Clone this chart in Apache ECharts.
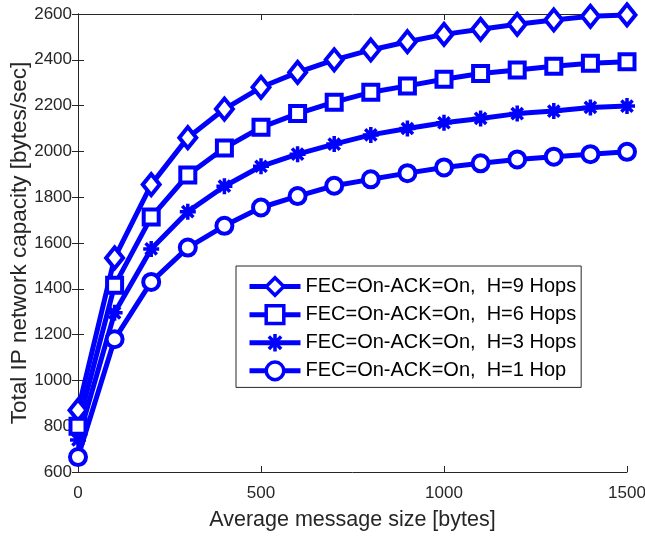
<!DOCTYPE html>
<html>
<head>
<meta charset="utf-8">
<script src="https://cdn.jsdelivr.net/npm/echarts@6/dist/echarts.min.js"></script>
<style>
  html, body { margin: 0; padding: 0; background: #fff; }
  #chart { width: 645px; height: 538px; }
</style>
</head>
<body>
<div id="chart"></div>
<script>
// message size [bytes]
const msgSize = [0, 100, 200, 300, 400, 500, 600, 700, 800, 900, 1000, 1100, 1200, 1300, 1400, 1500]
// capacity [bytes/sec]
const hops9 = [870, 1535, 1855, 2060, 2185, 2280, 2345, 2400, 2443, 2479, 2511, 2533, 2555, 2574, 2590, 2596]
const hops6 = [800, 1415, 1713, 1897, 2015, 2105, 2165, 2215, 2258, 2286, 2315, 2340, 2355, 2372, 2385, 2392]
const hops3 = [740, 1295, 1574, 1737, 1848, 1935, 1988, 2032, 2072, 2100, 2125, 2144, 2165, 2176, 2192, 2198]
const hops1 = [665, 1180, 1430, 1580, 1675, 1755, 1805, 1850, 1878, 1905, 1930, 1948, 1965, 1977, 1988, 1998]
const names = [
  'FEC=On-ACK=On,  H=9 Hops',
  'FEC=On-ACK=On,  H=6 Hops',
  'FEC=On-ACK=On,  H=3 Hops',
  'FEC=On-ACK=On,  H=1 Hop'
]

const BLUE = '#0000ff'
const AXIS = '#262626'
const FONT = 'Liberation Sans, Arial, sans-serif'
const asterisk = 'path://M0,-10L0,10M-10,0L10,0M-7,-7L7,7M-7,7L7,-7'

const zip = ys => msgSize.map((x, i) => [x, ys[i]])
const plain = v => String(v)

function mkSeries(name, ys, symbol, size, hollow) {
  return {
    name,
    type: 'line',
    data: zip(ys),
    symbol,
    symbolSize: size,
    showAllSymbol: true,
    clip: false,
    lineStyle: { color: BLUE, width: 5 },
    itemStyle: {
      color: hollow ? '#fff' : BLUE,
      borderColor: BLUE,
      borderWidth: hollow ? 4 : 3.5
    },
    emphasis: { disabled: true }
  }
}

const chart = echarts.init(document.getElementById('chart'))
chart.setOption({
  animation: false,
  backgroundColor: '#fff',
  grid: { left: 78, right: 18, top: 14, bottom: 66, outerBoundsMode: 'none' },
  xAxis: [
    {
      type: 'value', min: 0, max: 1500, interval: 500,
      name: 'Average message size [bytes]', nameLocation: 'middle', nameGap: 37,
      nameMoveOverlap: false,
      nameTextStyle: { fontFamily: FONT, fontSize: 21.5, color: AXIS },
      axisLine: { lineStyle: { color: AXIS, width: 1 } },
      axisTick: { inside: true, length: 6, lineStyle: { color: AXIS } },
      axisLabel: { fontFamily: FONT, fontSize: 17, color: AXIS, margin: 13, formatter: plain },
      splitLine: { show: false }
    },
    {
      type: 'value', position: 'top', min: 0, max: 1500, interval: 500,
      axisLine: { lineStyle: { color: AXIS, width: 1 } },
      axisTick: { inside: true, length: 6, lineStyle: { color: AXIS } },
      axisLabel: { show: false },
      splitLine: { show: false }
    }
  ],
  yAxis: [
    {
      type: 'value', min: 600, max: 2600, interval: 200,
      name: 'Total IP network capacity [bytes/sec]', nameLocation: 'middle', nameGap: 47,
      nameMoveOverlap: false,
      nameTextStyle: { fontFamily: FONT, fontSize: 22.5, color: AXIS },
      axisLine: { show: true, lineStyle: { color: AXIS, width: 1 } },
      axisTick: { show: true, inside: true, length: 6, lineStyle: { color: AXIS } },
      axisLabel: { fontFamily: FONT, fontSize: 17, color: AXIS, margin: 6, formatter: plain },
      splitLine: { show: false }
    },
    {
      type: 'value', position: 'right', min: 600, max: 2600, interval: 200,
      axisLine: { show: true, lineStyle: { color: AXIS, width: 1 } },
      axisTick: { show: true, inside: true, length: 6, lineStyle: { color: AXIS } },
      axisLabel: { show: false },
      splitLine: { show: false }
    }
  ],
  legend: {
    orient: 'vertical',
    left: 236, top: 266,
    padding: [10, 5, 6, 11],
    backgroundColor: '#fff',
    borderColor: AXIS, borderWidth: 1, borderRadius: 0,
    itemWidth: 51, itemHeight: 22, itemGap: 7,
    selectedMode: false,
    lineStyle: { width: 5 },
    itemStyle: { borderWidth: 3.5 },
    textStyle: { fontFamily: FONT, fontSize: 20, color: '#000' },
    data: names
  },
  series: [
    mkSeries(names[0], hops9, 'diamond', [17, 21], true),
    mkSeries(names[1], hops6, 'rect', 15, true),
    mkSeries(names[2], hops3, asterisk, 16, false),
    mkSeries(names[3], hops1, 'circle', 16, true)
  ]
})
</script>
</body>
</html>
